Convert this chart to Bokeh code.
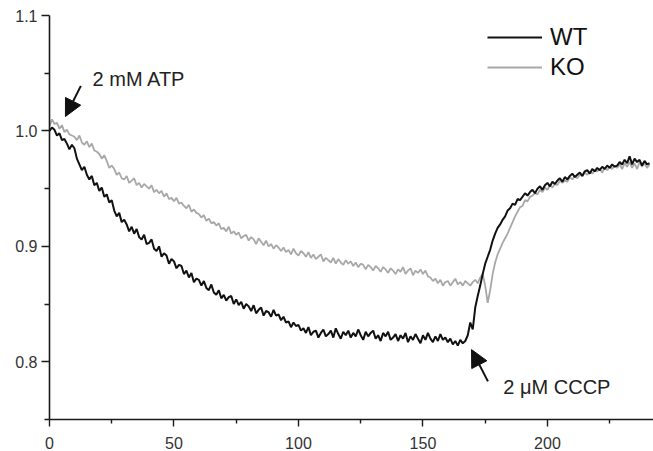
from bokeh.plotting import figure
from bokeh.models import (FixedTicker, PrintfTickFormatter, Arrow, NormalHead,
                          Label, Legend, LegendItem, ColumnDataSource)
from bokeh.embed import file_html
from bokeh.resources import INLINE

# time (s)
time = list(range(0, 242))

wt = [
    1.000, 1.003, 1.001, 0.996, 0.998, 0.992, 0.993, 0.989, 0.984, 0.988,
    0.985, 0.976, 0.971, 0.966, 0.969, 0.962, 0.958, 0.961, 0.953, 0.955,
    0.948, 0.951, 0.943, 0.945, 0.938, 0.940, 0.931, 0.926, 0.929, 0.921,
    0.923, 0.919, 0.913, 0.917, 0.911, 0.915, 0.908, 0.906, 0.910, 0.902,
    0.903, 0.906, 0.898, 0.896, 0.900, 0.891, 0.894, 0.892, 0.885, 0.889,
    0.887, 0.881, 0.884, 0.883, 0.876, 0.879, 0.873, 0.877, 0.869, 0.872,
    0.871, 0.866, 0.870, 0.864, 0.862, 0.867, 0.860, 0.858, 0.862, 0.855,
    0.858, 0.853, 0.856, 0.857, 0.850, 0.854, 0.849, 0.852, 0.846, 0.850,
    0.848, 0.844, 0.849, 0.842, 0.845, 0.847, 0.840, 0.844, 0.843, 0.839,
    0.845, 0.840, 0.841, 0.836, 0.839, 0.834, 0.835, 0.830, 0.834, 0.831,
    0.832, 0.827, 0.829, 0.825, 0.830, 0.823, 0.826, 0.827, 0.821, 0.825,
    0.828, 0.822, 0.824, 0.827, 0.821, 0.829, 0.824, 0.820, 0.826, 0.823,
    0.827, 0.821, 0.825, 0.822, 0.828, 0.823, 0.819, 0.826, 0.822, 0.825,
    0.827, 0.820, 0.823, 0.818, 0.825, 0.822, 0.826, 0.819, 0.821, 0.824,
    0.818, 0.823, 0.820, 0.825, 0.817, 0.822, 0.819, 0.824, 0.820, 0.816,
    0.823, 0.819, 0.825, 0.820, 0.817, 0.822, 0.818, 0.824, 0.819, 0.821,
    0.817, 0.820, 0.815, 0.818, 0.814, 0.819, 0.816, 0.818, 0.823, 0.834,
    0.828, 0.847, 0.857, 0.866, 0.876, 0.885, 0.891, 0.897, 0.905, 0.911,
    0.916, 0.919, 0.923, 0.926, 0.931, 0.933, 0.937, 0.936, 0.941, 0.940,
    0.943, 0.946, 0.944, 0.947, 0.949, 0.946, 0.950, 0.952, 0.949, 0.953,
    0.955, 0.952, 0.956, 0.954, 0.957, 0.959, 0.956, 0.960, 0.958, 0.961,
    0.963, 0.960, 0.962, 0.964, 0.961, 0.965, 0.966, 0.963, 0.967, 0.965,
    0.968, 0.966, 0.969, 0.967, 0.970, 0.968, 0.971, 0.969, 0.970, 0.973,
    0.971, 0.975, 0.972, 0.978, 0.971, 0.976, 0.973, 0.975, 0.970, 0.974,
    0.971, 0.972,
]

ko = [
    1.004, 1.010, 1.006, 1.007, 1.002, 1.005, 0.999, 1.001, 0.997, 0.996,
    0.995, 0.992, 0.996, 0.990, 0.988, 0.991, 0.986, 0.989, 0.983, 0.982,
    0.980, 0.976, 0.979, 0.974, 0.968, 0.970, 0.967, 0.962, 0.964, 0.959,
    0.958, 0.961, 0.955, 0.957, 0.959, 0.953, 0.955, 0.951, 0.954, 0.952,
    0.950, 0.953, 0.947, 0.949, 0.946, 0.948, 0.943, 0.946, 0.941, 0.942,
    0.939, 0.942, 0.937, 0.938, 0.935, 0.933, 0.936, 0.930, 0.932, 0.929,
    0.928, 0.925, 0.927, 0.922, 0.924, 0.920, 0.921, 0.918, 0.920, 0.915,
    0.916, 0.913, 0.917, 0.911, 0.913, 0.910, 0.912, 0.907, 0.909, 0.910,
    0.905, 0.908, 0.906, 0.902, 0.907, 0.904, 0.901, 0.905, 0.900, 0.902,
    0.898, 0.901, 0.899, 0.896, 0.899, 0.895, 0.897, 0.893, 0.898, 0.894,
    0.892, 0.896, 0.894, 0.891, 0.895, 0.890, 0.893, 0.889, 0.891, 0.893,
    0.887, 0.890, 0.888, 0.886, 0.890, 0.885, 0.889, 0.886, 0.884, 0.888,
    0.885, 0.887, 0.883, 0.886, 0.882, 0.885, 0.884, 0.880, 0.884, 0.882,
    0.879, 0.883, 0.881, 0.878, 0.882, 0.880, 0.877, 0.881, 0.879, 0.876,
    0.880, 0.878, 0.882, 0.876, 0.879, 0.881, 0.875, 0.879, 0.877, 0.880,
    0.876, 0.879, 0.874, 0.873, 0.870, 0.872, 0.868, 0.871, 0.866, 0.869,
    0.870, 0.866, 0.869, 0.872, 0.867, 0.869, 0.866, 0.870, 0.868, 0.866,
    0.869, 0.871, 0.868, 0.873, 0.876, 0.866, 0.851, 0.862, 0.876, 0.886,
    0.893, 0.898, 0.903, 0.907, 0.911, 0.916, 0.921, 0.926, 0.930, 0.934,
    0.935, 0.940, 0.939, 0.943, 0.944, 0.946, 0.945, 0.949, 0.947, 0.951,
    0.949, 0.953, 0.951, 0.954, 0.953, 0.957, 0.955, 0.957, 0.956, 0.960,
    0.958, 0.961, 0.959, 0.962, 0.961, 0.964, 0.962, 0.965, 0.963, 0.966,
    0.965, 0.967, 0.964, 0.968, 0.966, 0.969, 0.967, 0.970, 0.968, 0.971,
    0.967, 0.972, 0.969, 0.973, 0.968, 0.972, 0.967, 0.973, 0.969, 0.972,
    0.968, 0.971,
]

x_major = [0, 50, 100, 150, 200]
x_minor = [25, 75, 125, 175, 225]
y_major = [0.8, 0.9, 1.0, 1.1]
y_minor = [0.75, 0.85, 0.95, 1.05]

FONT = "Liberation Sans"

p = figure(width=653, height=451, output_backend="svg", toolbar_location=None,
           x_range=(0, 242.6), y_range=(0.75, 1.1),
           min_border_left=49, min_border_right=0, min_border_top=15,
           min_border_bottom=32)
p.background_fill_color = "white"
p.border_fill_color = "white"
p.outline_line_color = None
p.xgrid.visible = False
p.ygrid.visible = False

src = ColumnDataSource(dict(t=time, wt=wt, ko=ko))
r_ko = p.line("t", "ko", source=src, line_color="#a8a8a8", line_width=1.8)
r_wt = p.line("t", "wt", source=src, line_color="#111111", line_width=2.0)

for ax, maj, mnr in ((p.xaxis[0], x_major, x_minor), (p.yaxis[0], y_major, y_minor)):
    ax.ticker = FixedTicker(ticks=maj, minor_ticks=mnr)
    ax.axis_line_color = "#1a1a1a"
    ax.axis_line_width = 1.6
    ax.major_tick_line_color = "#1a1a1a"
    ax.minor_tick_line_color = "#1a1a1a"
    ax.major_tick_line_width = 1.4
    ax.minor_tick_line_width = 1.4
    ax.major_tick_in = 0
    ax.minor_tick_in = 0
    ax.major_label_text_font = FONT
    ax.major_label_text_font_size = "16px"
    ax.major_label_text_color = "#333333"

p.xaxis[0].major_tick_out = 7
p.xaxis[0].minor_tick_out = 4
p.xaxis[0].major_label_standoff = 10
p.yaxis[0].major_tick_out = 8
p.yaxis[0].minor_tick_out = 5
p.yaxis[0].major_label_standoff = 4
p.yaxis[0].formatter = PrintfTickFormatter(format="%.1f")

# annotations
p.add_layout(Arrow(end=NormalHead(size=17, fill_color="#111111", line_color="#111111"),
                   x_start=12.6, y_start=1.0390, x_end=6.4, y_end=1.0125,
                   line_width=2, line_color="#111111"))
p.add_layout(Arrow(end=NormalHead(size=17, fill_color="#111111", line_color="#111111"),
                   x_start=176.1, y_start=0.7830, x_end=169.5, y_end=0.8106,
                   line_width=2, line_color="#111111"))
p.add_layout(Label(x=17.3, y=1.0454, text="2 mM ATP", text_font=FONT,
                   text_font_size="20px", text_color="#222222", text_baseline="middle"))
p.add_layout(Label(x=182.3, y=0.7785, text="2 μM CCCP", text_font=FONT,
                   text_font_size="20px", text_color="#222222", text_baseline="middle"))

legend = Legend(items=[LegendItem(label="WT", renderers=[r_wt]),
                       LegendItem(label="KO", renderers=[r_ko])],
                location=(438, 337))
legend.label_text_font = FONT
legend.label_text_font_size = "24px"
legend.label_text_color = "#111111"
legend.glyph_width = 55
legend.glyph_height = 30
legend.label_height = 30
legend.label_standoff = 8
legend.spacing = 0
legend.padding = 0
legend.margin = 0
legend.border_line_color = None
legend.background_fill_alpha = 0
p.add_layout(legend)

open("out.html", "w").write(file_html(p, INLINE))
